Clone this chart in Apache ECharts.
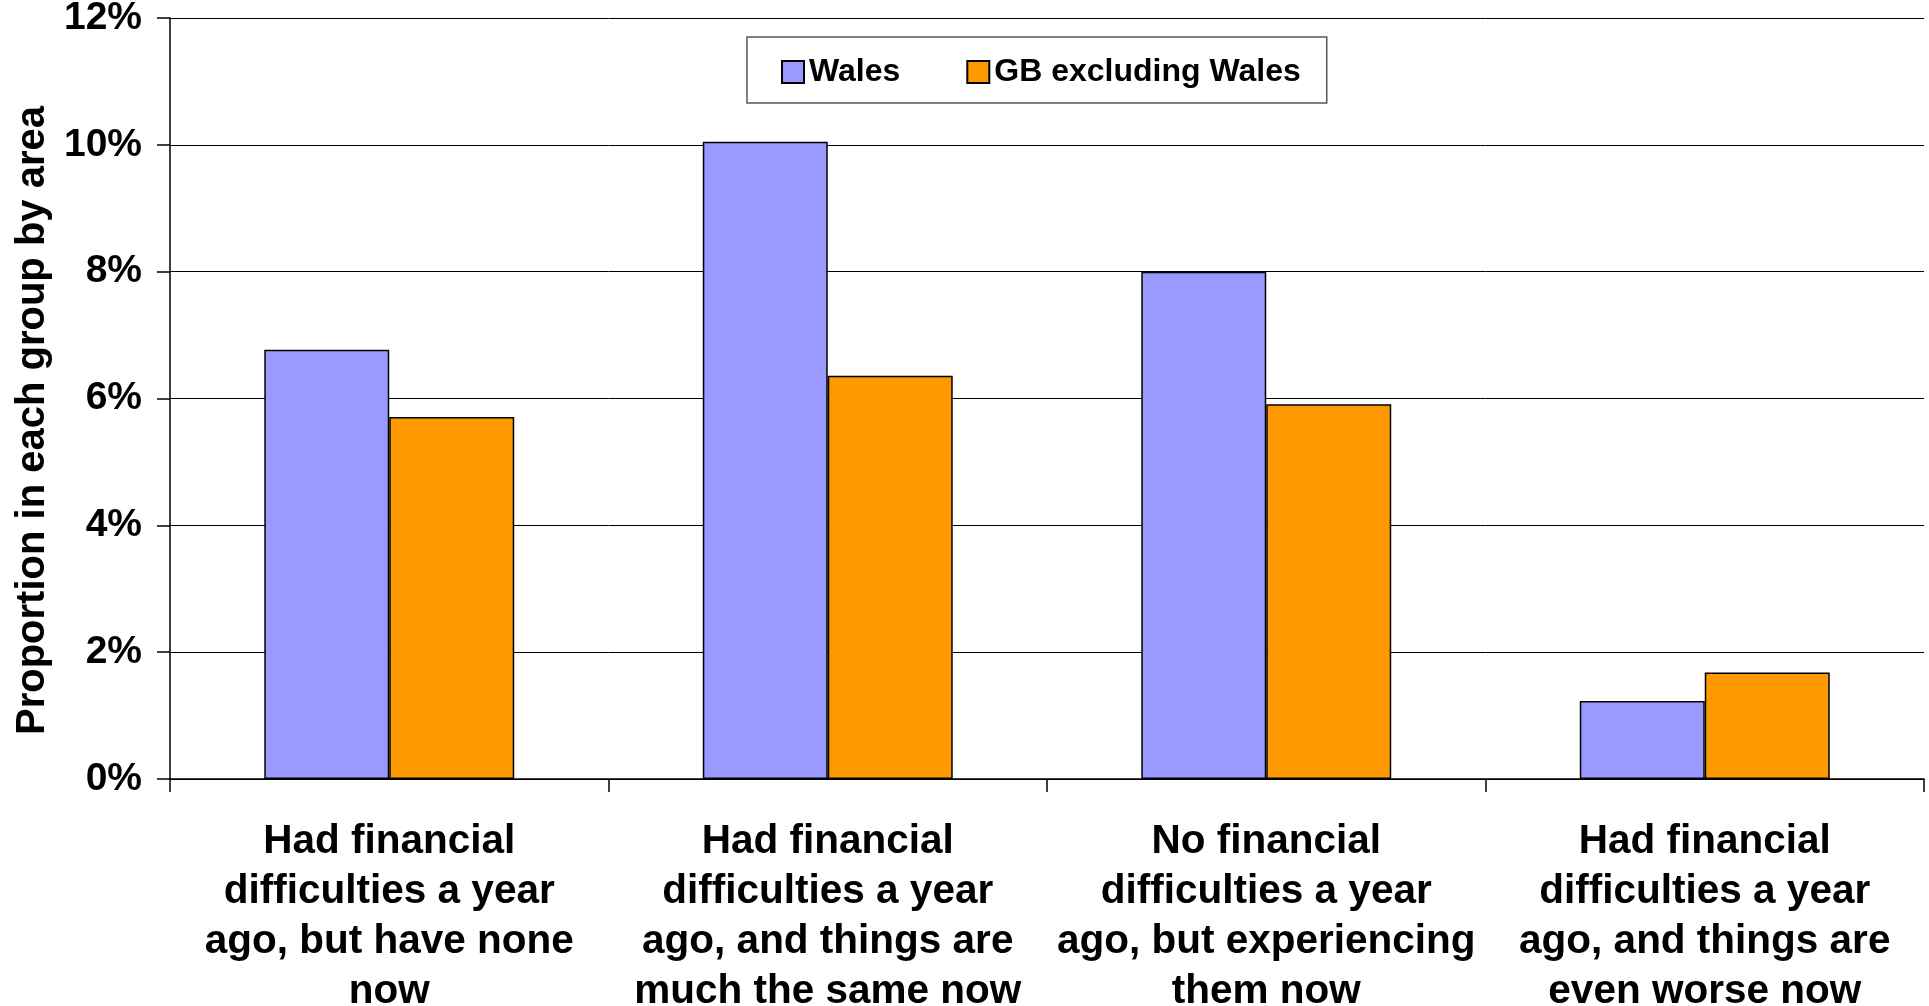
<!DOCTYPE html>
<html>
<head>
<meta charset="utf-8">
<script src="https://cdn.jsdelivr.net/npm/echarts@6/dist/echarts.min.js"></script>
<style>
html,body{margin:0;padding:0;background:#fff;}
#chart{width:1929px;height:1006px;}
</style>
</head>
<body>
<div id="chart"></div>
<script>
const categories = [
  "Had financial\ndifficulties a year\nago, but have none\nnow",
  "Had financial\ndifficulties a year\nago, and things are\nmuch the same now",
  "No financial\ndifficulties a year\nago, but experiencing\nthem now",
  "Had financial\ndifficulties a year\nago, and things are\neven worse now"
];
const walesValues = [6.77, 10.05, 8.0, 1.23];
const gbValues = [5.71, 6.36, 5.91, 1.68];
const seriesNames = ["Wales", "GB excluding Wales"];
const yTicks = { min: 0, max: 12, interval: 2 };

const FONT = "'Liberation Sans', Arial, sans-serif";
const chart = echarts.init(document.getElementById('chart'), null, { renderer: 'canvas' });
chart.setOption({
  backgroundColor: '#fff',
  animation: false,
  textStyle: { fontFamily: FONT },
  legend: {
    left: 747, top: 37,
    padding: [19, 26, 15, 34],
    icon: 'rect',
    itemWidth: 22, itemHeight: 22, itemGap: 66,
    borderColor: '#555', borderWidth: 1.5,
    itemStyle: { borderColor: '#000', borderWidth: 2 },
    textStyle: { fontSize: 32, fontWeight: 'bold', color: '#000', fontFamily: FONT },
    data: seriesNames
  },
  grid: { left: 170, right: 5, top: 18, bottom: 227, containLabel: false, outerBoundsMode: 'none' },
  xAxis: {
    type: 'category',
    data: categories,
    boundaryGap: true,
    axisLine: { lineStyle: { color: '#000', width: 1.5 } },
    axisTick: { show: true, length: 13, inside: false, lineStyle: { color: '#000', width: 1.5 } },
    axisLabel: {
      interval: 0, margin: 38,
      fontSize: 40.5, fontWeight: 'bold', color: '#000', lineHeight: 50, fontFamily: FONT,
      align: 'center'
    },
    splitLine: { show: false }
  },
  yAxis: {
    type: 'value',
    min: yTicks.min, max: yTicks.max, interval: yTicks.interval,
    name: 'Proportion in each group by area',
    nameLocation: 'middle', nameGap: 115, nameRotate: 90,
    nameTextStyle: { fontSize: 40, fontWeight: 'bold', color: '#000', fontFamily: FONT, padding: [0, 44, 0, 0] },
    axisLine: { show: true, lineStyle: { color: '#000', width: 1.5 } },
    axisTick: { show: true, length: 13, inside: false, lineStyle: { color: '#000', width: 1.5 } },
    axisLabel: {
      margin: 28, fontSize: 39, fontWeight: 'bold', color: '#000', fontFamily: FONT,
      formatter: '{value}%'
    },
    splitLine: { show: true, lineStyle: { color: '#000', width: 1 } }
  },
  series: [
    {
      name: seriesNames[0], type: 'bar', data: walesValues,
      barGap: '0%', barCategoryGap: '43%',
      itemStyle: { color: '#9999FF', borderColor: '#000', borderWidth: 1.5 }
    },
    {
      name: seriesNames[1], type: 'bar', data: gbValues,
      barGap: '0%', barCategoryGap: '43%',
      itemStyle: { color: '#FF9900', borderColor: '#000', borderWidth: 1.5 }
    }
  ]
});
</script>
</body>
</html>
